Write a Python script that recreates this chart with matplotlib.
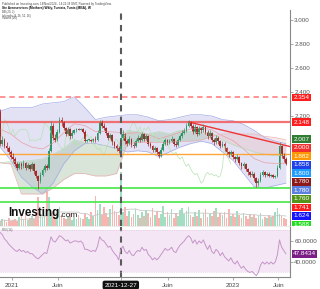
import matplotlib
matplotlib.use("Agg")
import matplotlib.pyplot as plt
import matplotlib.transforms as mtransforms
import numpy as np
import pandas as pd

plt.rcParams["font.family"] = ["Liberation Sans", "DejaVu Sans"]

# donnees hebdomadaires (lecture approximative du graphique)
start = pd.Timestamp("2020-11-23")
open0 = 2.24
closes = [1.97, 2.00, 1.95, 1.93, 1.90, 1.86, 1.84, 1.80, 1.77, 1.80,
          1.78, 1.81, 1.77, 1.79, 1.76, 1.80, 1.74, 1.70, 1.66, 1.71,
          1.75, 1.78, 1.77, 1.91, 2.12, 2.02, 2.00, 2.07, 2.17, 2.15,
          2.10, 2.05, 2.09, 2.03, 2.06, 2.08, 2.09, 2.085, 2.09, 2.07,
          1.99, 2.00, 2.00, 1.99, 2.01, 2.00, 2.06, 2.15, 2.12, 2.10,
          2.06, 2.02, 2.04, 1.98, 1.95, 1.93, 1.91, 2.02, 2.05, 1.99,
          1.97, 2.01, 1.96, 1.95, 1.99, 2.02, 2.00, 2.05, 2.01, 2.03,
          1.97, 1.95, 1.92, 1.93, 1.90, 1.87, 1.92, 1.97, 2.00, 1.98,
          1.99, 2.01, 1.97, 1.96, 2.00, 2.03, 2.06, 2.08, 2.12, 2.15,
          2.12, 2.07, 2.11, 2.05, 2.10, 2.08, 2.11, 2.07, 2.03, 2.06,
          2.00, 1.98, 2.02, 1.99, 1.95, 1.97, 1.93, 1.90, 1.88, 1.90,
          1.86, 1.84, 1.86, 1.81, 1.78, 1.80, 1.76, 1.73, 1.71, 1.72,
          1.68, 1.64, 1.66, 1.71, 1.73, 1.71, 1.72, 1.70, 1.71, 1.69,
          1.70, 1.77, 1.95, 1.87, 1.84, 1.80]
highs = [2.26, 2.03, 2.02, 1.98, 1.95, 1.92, 1.89, 1.86, 1.82, 1.82,
         1.82, 1.83, 1.82, 1.81, 1.80, 1.82, 1.81, 1.75, 1.71, 1.73,
         1.77, 1.80, 1.80, 1.93, 2.16, 2.14, 2.05, 2.09, 2.19, 2.19,
         2.16, 2.11, 2.11, 2.10, 2.08, 2.09, 2.10, 2.10, 2.10, 2.10,
         2.08, 2.01, 2.01, 2.01, 2.02, 2.03, 2.08, 2.17, 2.17, 2.14,
         2.11, 2.07, 2.06, 2.05, 1.99, 1.97, 1.95, 2.09, 2.08, 2.06,
         2.01, 2.03, 2.02, 1.98, 2.01, 2.04, 2.03, 2.07, 2.06, 2.05,
         2.04, 1.98, 1.96, 1.95, 1.94, 1.91, 1.94, 1.99, 2.02, 2.01,
         2.01, 2.03, 2.02, 1.99, 2.02, 2.05, 2.08, 2.10, 2.14, 2.17,
         2.16, 2.13, 2.13, 2.12, 2.12, 2.11, 2.13, 2.12, 2.08, 2.08,
         2.07, 2.02, 2.04, 2.03, 2.00, 1.99, 1.98, 1.94, 1.91, 1.92,
         1.91, 1.87, 1.88, 1.87, 1.82, 1.82, 1.81, 1.77, 1.74, 1.74,
         1.73, 1.69, 1.68, 1.73, 1.75, 1.74, 1.73, 1.73, 1.72, 1.72,
         1.71, 1.79, 1.98, 1.96, 1.89, 1.86]
lows = [1.95, 1.95, 1.93, 1.91, 1.88, 1.84, 1.82, 1.78, 1.75, 1.76,
        1.76, 1.77, 1.75, 1.76, 1.74, 1.75, 1.72, 1.68, 1.59, 1.64,
        1.70, 1.73, 1.75, 1.76, 1.90, 2.00, 1.98, 1.99, 2.06, 2.12,
        2.08, 2.03, 2.04, 2.01, 2.02, 2.05, 2.07, 2.08, 2.08, 2.06,
        1.98, 1.98, 1.99, 1.98, 1.98, 1.98, 1.99, 2.05, 2.10, 2.08,
        2.04, 2.00, 2.01, 1.96, 1.93, 1.91, 1.89, 1.90, 2.00, 1.97,
        1.95, 1.96, 1.94, 1.93, 1.94, 1.98, 1.98, 1.99, 1.99, 2.00,
        1.95, 1.93, 1.90, 1.90, 1.88, 1.85, 1.86, 1.91, 1.96, 1.96,
        1.97, 1.98, 1.95, 1.94, 1.95, 1.99, 2.02, 2.05, 2.07, 2.11,
        2.10, 2.05, 2.06, 2.03, 2.04, 2.06, 2.07, 2.05, 2.01, 2.02,
        1.98, 1.96, 1.97, 1.97, 1.93, 1.94, 1.91, 1.88, 1.86, 1.87,
        1.84, 1.82, 1.83, 1.79, 1.76, 1.77, 1.74, 1.71, 1.69, 1.70,
        1.66, 1.61, 1.62, 1.65, 1.70, 1.69, 1.70, 1.69, 1.69, 1.68,
        1.68, 1.69, 1.76, 1.85, 1.82, 1.79]
volumes = [5, 7, 6, 4, 8, 5, 6, 7, 5, 9,
           11, 7, 13, 6, 8, 10, 7, 13, 30, 15,
           9, 11, 36, 30, 13, 15, 9, 13, 19, 11,
           8, 7, 10, 13, 6, 9, 7, 11, 8, 7,
           12, 9, 7, 14, 10, 31, 16, 22, 11, 19,
           13, 9, 17, 21, 15, 13, 11, 55, 14, 19,
           10, 15, 9, 12, 17, 11, 8, 14, 10, 16,
           13, 9, 18, 11, 15, 8, 12, 20, 9, 14,
           11, 17, 8, 13, 10, 16, 18, 12, 15, 19,
           11, 9, 14, 10, 16, 8, 13, 17, 9, 12,
           10, 15, 18, 9, 13, 11, 14, 8, 17, 10,
           12, 9, 15, 11, 8, 13, 10, 7, 12, 9,
           11, 8, 10, 13, 7, 9, 8, 11, 9, 10,
           14, 18, 12, 10, 8, 7]
rsi = [68, 66, 62, 60, 57, 55, 53, 51, 50, 52,
       50, 51, 49, 50, 48, 48, 46, 44, 43, 45,
       47, 49, 48, 56, 64, 60, 59, 62, 65, 64,
       62, 60, 61, 58, 59, 60, 60, 59, 60, 58,
       52, 52, 51, 50, 51, 50, 55, 64, 61, 60,
       57, 54, 55, 51, 48, 46, 42, 52, 55, 50,
       48, 51, 47, 46, 49, 51, 50, 54, 51, 52,
       47, 45, 42, 44, 42, 44, 47, 50, 53, 51,
       52, 54, 50, 49, 53, 56, 58, 60, 63, 65,
       63, 58, 61, 57, 60, 58, 61, 56, 52, 56,
       50, 48, 52, 50, 46, 49, 45, 43, 41, 44,
       40, 38, 41, 37, 34, 36, 33, 31, 30, 31,
       29, 27, 30, 37, 40, 38, 40, 38, 40, 38,
       40, 47, 61, 54, 51, 47.8434]

# bandes de Bollinger et nuage Ichimoku (toutes les 5 semaines)
band_weeks = list(range(0, 136, 5))
bb_upper = [2.24, 2.27, 2.27, 2.27, 2.30, 2.31, 2.32, 2.36, 2.27, 2.17,
            2.19, 2.20, 2.21, 2.21, 2.19, 2.16, 2.17, 2.19, 2.21, 2.21,
            2.20, 2.17, 2.16, 2.13, 2.08, 2.02, 1.99, 1.97]
bb_lower = [1.94, 1.83, 1.69, 1.61, 1.55, 1.64, 1.80, 1.91, 1.97, 1.97,
            1.95, 1.93, 1.90, 1.91, 1.90, 1.86, 1.90, 1.94, 1.97, 1.99,
            1.97, 1.90, 1.83, 1.72, 1.61, 1.60, 1.62, 1.64]
span_a = [1.81, 1.82, 1.82, 1.83, 1.84, 1.88, 1.93, 2.00, 1.98, 1.96,
          1.95, 1.92, 2.08, 2.07, 2.05, 2.07, 2.05, 2.08, 2.07, 2.06,
          2.06, 2.00, 1.96, 1.93, 1.90, 1.88, 1.87, 1.87]
span_b = [1.81, 1.80, 1.55, 1.55, 1.55, 1.60, 1.67, 1.72, 1.72, 1.70,
          1.70, 1.72, 1.97, 1.98, 1.98, 1.98, 1.98, 1.99, 1.99, 2.00,
          2.03, 2.05, 2.05, 2.05, 2.05, 2.03, 2.02, 2.00]

levels = {"dash": 2.354, "resist": 2.148, "orange": 1.882, "green1": 1.603, "green2": 1.48}
trend_weeks = [89, 137]
trend_prices = [2.15, 1.945]

price_ticks = [2.2, 2.4, 2.6, 2.8, 3.0]
stack_labels = ["2.007", "2.000", "1.882", "1.858", "1.800", "1.780",
                "1.780", "1.760", "1.741", "1.624", "1.588"]
stack_colors = ["#2e7d32", "#f23030", "#ff9800", "#2040e8", "#1e9bff", "#8b1a1a",
                "#5b80e0", "#55941a", "#ff1e1e", "#1414ff", "#22dd22"]

tick_dates = ["2021-01-01", "2021-06-01", "2021-12-27", "2022-06-01", "2023-01-01", "2023-06-01"]
tick_texts = ["2021", "Juin", "2021-12-27", "Juin", "2023", "Juin"]

# ---------------------------------------------------------------
n = len(closes)
idx = np.arange(n)
c = np.array(closes)
o = np.r_[open0, c[:-1]]
up = c >= o

fig = plt.figure(figsize=(3.2, 2.89), dpi=100)
ax = fig.add_axes([0, 1 - 226 / 289, 290 / 320, 216 / 289])
rax = fig.add_axes([0, 1 - 277 / 289, 290 / 320, 50 / 289])
vax = ax.twinx()
ax.set_zorder(vax.get_zorder() + 1)
ax.patch.set_visible(False)

xlim = (-0.1, 136.95)
ax.set_xlim(xlim)
rax.set_xlim(xlim)
ax.set_ylim(1.283, 3.083)

# volume
vcol = np.where(up, "#a2dec2", "#f6b5b1")
vax.bar(idx, volumes, width=0.8, color=vcol, linewidth=0)
vma = pd.Series(volumes).rolling(20, min_periods=1).mean()
vax.plot(idx, vma, color="#c8c8c8", lw=0.6)
vax.set_ylim(0, 220)
vax.set_yticks([])
for s in vax.spines.values():
    s.set_visible(False)

# bollinger
ax.fill_between(band_weeks, bb_lower, bb_upper, color="#cbcbec", alpha=0.55, lw=0)
ax.plot(band_weeks, bb_upper, color="#a4ace8", lw=0.5)
ax.plot(band_weeks, bb_lower, color="#a4ace8", lw=0.5)
ax.plot(band_weeks, (np.array(bb_upper) + np.array(bb_lower)) / 2, color="#e8a0a0", lw=0.5)

# ichimoku
sa = np.array(span_a)
sb = np.array(span_b)
ax.fill_between(band_weeks, sa, sb, where=sa >= sb, interpolate=True,
                color="#a3bfa3", alpha=0.4, lw=0)
ax.fill_between(band_weeks, sa, sb, where=sa < sb, interpolate=True,
                color="#efb8b8", alpha=0.3, lw=0)
ax.plot(band_weeks, sa, color="#b5dcb5", lw=0.5)
ax.plot(band_weeks, sb, color="#ebb0b0", lw=0.5)
ax.plot(idx[:-26], c[26:], color="#b7e2b3", lw=0.5)

# niveaux
ax.axhline(levels["dash"], color="#ff8a8a", lw=1.3, ls=(0, (3, 2.2)))
ax.axhline(levels["resist"], color="#f25a5a", lw=1.6, alpha=0.85)
ax.axhline(levels["orange"], color="#ffa53a", lw=1.0)
ax.axhline(levels["green1"], color="#44e844", lw=1.2)
ax.axhline(levels["green2"], color="#44e844", lw=1.2)
ax.plot(trend_weeks, trend_prices, color="#ee3434", lw=1.0)

# bougies
ccol = np.where(up, "#2f9465", "#a82a2a")
ax.vlines(idx, lows, highs, colors=ccol, lw=0.5)
body = c - o
body = np.where(np.abs(body) < 0.005, np.where(up, 0.006, -0.006), body)
ax.bar(idx, body, bottom=o, width=0.82, color=ccol, linewidth=0)

# ligne de date
for a in (ax, rax):
    a.axvline(57, color="#5a5a5a", lw=1.5, ls=(0, (3, 2.5)))

# axes prix
ax.yaxis.tick_right()
ax.set_yticks(price_ticks)
ax.set_yticklabels(["%.3f" % t for t in price_ticks])
ax.tick_params(axis="y", labelsize=4.5, labelcolor="#555", color="#888", length=2, pad=1, width=0.5)
ax.set_xticks([])
for k in ("left", "top"):
    ax.spines[k].set_visible(False)
ax.spines["bottom"].set_color("#e4e4e4")
ax.spines["bottom"].set_linewidth(0.5)
ax.spines["right"].set_color("#888")
ax.spines["right"].set_linewidth(0.8)

blend = mtransforms.blended_transform_factory(ax.transAxes, ax.transData)
clip = mtransforms.TransformedBbox(mtransforms.Bbox([[0, 1 - 226 / 289], [1, 1]]), fig.transFigure)


def price_box(txt, y, col, dy=0):
    t = ax.annotate(txt, xy=(1, y), xycoords=blend, xytext=(8.3, dy), textcoords="offset points",
                    ha="center", va="center", fontsize=4.6, color="white",
                    bbox=dict(boxstyle="square,pad=0.22", fc=col, ec="none"), annotation_clip=False)
    t.set_clip_box(clip)
    t.set_clip_on(True)


price_box("2.354", levels["dash"], "#ff1e1e")
price_box("2.148", levels["resist"], "#ff1e1e")
for k, (lab, col) in enumerate(zip(stack_labels, stack_colors)):
    price_box(lab, float(stack_labels[0]), col, dy=-6.15 * k)

# logo
logo = ax.text(8 / 290, 0.045, "Investing", transform=ax.transAxes, fontsize=8.4,
               fontweight="bold", color="#111", va="baseline", zorder=5)
ax.annotate(".com", xy=(1, 0), xycoords=logo, va="bottom", ha="left",
            fontsize=6, color="#222", zorder=5)

# textes en haut
fig.text(2 / 320, 1 - 3.5 / 289, "Published on Investing.com, 14/Nov/2024 - 14:22:38 GMT, Powered by TradingView.",
         fontsize=2.1, color="#444", va="center")
fig.text(2 / 320, 1 - 8 / 289, "Ste Aeroservices (Mothers) Wkly, Tunisia, Tunis (MBA), W",
         fontsize=2.3, color="#111", fontweight="bold", va="center")
for k, s in enumerate(["BB (20, 2)", "Ichimoku (9, 26, 52, 26)", "Volume (20)"]):
    fig.text(2 / 320, 1 - (12.5 + 3 * k) / 289, s, fontsize=2.0, color="#444", va="center")

# RSI
rax.set_ylim(25.7, 73.3)
rax.axhspan(30, 70, color="#f4e6f4", lw=0)
rax.axhline(70, color="#dcc2dc", lw=0.4, ls=(0, (2, 2)))
rax.axhline(30, color="#dcc2dc", lw=0.4, ls=(0, (2, 2)))
rax.plot(idx, rsi, color="#c596c9", lw=0.7)
rax.yaxis.tick_right()
rax.set_yticks([40, 60])
rax.set_yticklabels(["40.0000", "60.0000"])
rax.tick_params(axis="y", labelsize=4.5, labelcolor="#555", color="#888", length=2, pad=1, width=0.5)
rax.text(2 / 290, 0.93, "RSI (14)", transform=rax.transAxes, fontsize=2.0, color="#555", va="center")
rb = mtransforms.blended_transform_factory(rax.transAxes, rax.transData)
rax.annotate("%.4f" % rsi[-1], xy=(1, rsi[-1]), xycoords=rb, xytext=(10.5, 0), textcoords="offset points",
             ha="center", va="center", fontsize=4.6, color="white",
             bbox=dict(boxstyle="square,pad=0.2", fc="#7b1f86", ec="none"), annotation_clip=False)
for k in ("left", "top"):
    rax.spines[k].set_visible(False)
for k in ("right", "bottom"):
    rax.spines[k].set_color("#888")
    rax.spines[k].set_linewidth(0.8)

tpos = [(pd.Timestamp(d) - start).days / 7 for d in tick_dates]
rax.set_xticks(tpos)
rax.set_xticklabels(tick_texts)
rax.tick_params(axis="x", labelsize=4.6, labelcolor="#444", color="#888", length=2, pad=2, width=0.5)
for lab in rax.get_xticklabels():
    if lab.get_text() == "2021-12-27":
        lab.set_color("white")
        lab.set_bbox(dict(boxstyle="round,pad=0.3", fc="#111", ec="none"))

fig.savefig("out.png", dpi=100, facecolor="white")
